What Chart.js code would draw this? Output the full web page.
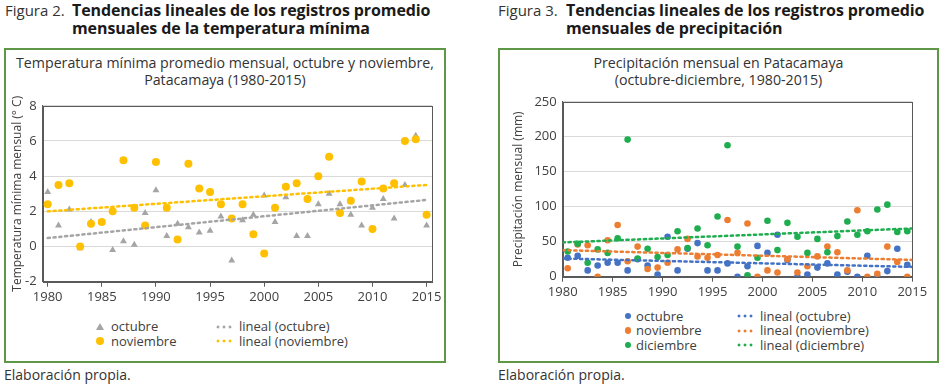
<!DOCTYPE html>
<html>
<head>
<meta charset="utf-8">
<script src="https://cdn.jsdelivr.net/npm/chart.js@4.4.1/dist/chart.umd.min.js"></script>
<style>
  body { margin: 0; width: 943px; height: 386px; background: #fff; position: relative; overflow: hidden;
         font-family: "Open Sans", sans-serif; color: #333; }
  .fig { position: absolute; top: 2px; display: flex; line-height: 17.7px; }
  .fig .lab { color: #333; font-size: 15px; }
  .fig b { color: #1a1a1a; font-size: 16px; letter-spacing: -0.1px; }
  .box { position: absolute; top: 48px; height: 315px; border: 2px solid #5e9746; box-sizing: border-box; }
  .ctitle { position: absolute; top: 54px; font-size: 14.2px; line-height: 17px; text-align: center; color: #333; }
  .src { position: absolute; top: 367px; font-size: 14px; line-height: 16px; color: #333; }
  canvas { position: absolute; }
  .leg { position: absolute; display: flex; align-items: center; height: 15px; font-size: 13px; line-height: 15px; color: #404040; white-space: nowrap; }
  .leg .mk { display: inline-block; flex: none; }
</style>
</head>
<body>

<div class="fig" style="left:5px"><span class="lab" style="width:67px">Figura 2.</span><b>Tendencias lineales de los registros promedio<br>mensuales de la temperatura mínima</b></div>
<div class="fig" style="left:498px"><span class="lab" style="width:68px">Figura 3.</span><b>Tendencias lineales de los registros promedio<br>mensuales de precipitación</b></div>

<div class="box" style="left:4px; width:442px"></div>
<div class="box" style="left:498px; width:441px"></div>

<div class="ctitle" style="left:4px; width:442px">Temperatura mínima promedio mensual, octubre y noviembre,<br>Patacamaya (1980-2015)</div>
<div class="ctitle" style="left:498px; width:441px">Precipitación mensual en Patacamaya<br>(octubre-diciembre, 1980-2015)</div>

<canvas id="tempChart" width="440" height="218" style="left:6px; top:92px; width:440px; height:218px"></canvas>
<canvas id="precChart" width="437" height="217" style="left:500px; top:88px; width:437px; height:217px"></canvas>

<div id="tempLegend"></div>
<div id="precLegend"></div>

<div class="src" style="left:4px">Elaboración propia.</div>
<div class="src" style="left:498px">Elaboración propia.</div>

<script>
// Figura 2 - temperatura mínima (°C)
const tempYears = [1980, 1981, 1982, 1983, 1984, 1985, 1986, 1987, 1988, 1989,
  1990, 1991, 1992, 1993, 1994, 1995, 1996, 1997, 1998, 1999,
  2000, 2001, 2002, 2003, 2004, 2005, 2006, 2007, 2008, 2009,
  2010, 2011, 2012, 2013, 2014, 2015];
const tempOct = [3.1, 1.2, 2.1, -0.1, 1.4, 1.4, -0.2, 0.3, 0.1, 1.9,
  3.2, 0.6, 1.3, 1.1, 0.8, 0.9, 1.7, -0.8, 1.5, 1.8,
  2.9, 1.4, 2.8, 0.6, 0.6, 2.4, 3.0, 2.4, 1.8, 1.2,
  2.2, 2.7, 1.6, 3.5, 6.3, 1.2];
const tempNov = [2.4, 3.5, 3.6, 0.0, 1.3, 1.4, 2.0, 4.9, 2.2, 1.2,
  4.8, 2.2, 0.4, 4.7, 3.3, 3.1, 2.4, 1.6, 2.4, 0.7,
  -0.4, 2.2, 3.4, 3.6, 2.7, 4.0, 5.1, 1.9, 2.6, 3.7,
  1.0, 3.3, 3.6, 6.0, 6.1, 1.8];
const tempTrendYears = [1980, 2015];
const tempTrendOct = [0.48, 2.65];
const tempTrendNov = [2.0, 3.5];
const tempTicksY = [-2, 0, 2, 4, 6, 8];

// Figura 3 - precipitación (mm)
const precYears = [1980, 1981, 1982, 1983, 1984, 1985, 1986, 1987, 1988, 1989,
  1990, 1991, 1992, 1993, 1994, 1995, 1996, 1997, 1998, 1999,
  2000, 2001, 2002, 2003, 2004, 2005, 2006, 2007, 2008, 2009,
  2010, 2011, 2012, 2013, 2014];
const precOct = [27, 30, 9, 16, 20, 20, 9, 25, 16, 3,
  57, 9, 40, 48, 9, 9, 19, 0, 15, 44,
  34, 60, 24, 0, 3, 13, 19, 3, 7, 0,
  30, 0, 8, 40, 17];
const precNov = [12, 46, 45, 0, 52, 74, 22, 43, 11, 13,
  20, 39, 54, 29, 27, 31, 81, 34, 76, 0,
  9, 6, 25, 6, 15, 29, 43, 35, 9, 95,
  0, 4, 43, 21, 0];
const precDic = [36, 47, 20, 39, 34, 55, 196, 26, 40, 28,
  31, 65, 41, 69, 45, 86, 188, 43, 2, 27,
  80, 38, 77, 57, 34, 54, 35, 58, 79, 60,
  65, 96, 103, 64, 65];
const precTrendYears = [1980, 2015];
const precTrendOct = [26, 14];
const precTrendNov = [38, 24];
const precTrendDic = [49, 69];
const precTicksY = [0, 50, 100, 150, 200, 250];

const yearTicks = [1980, 1985, 1990, 1995, 2000, 2005, 2010, 2015];

const GRAY = "#a5a5a5", YELLOW = "#ffc000";
const BLUE = "#4472c4", ORANGE = "#ed7d31", GREEN = "#1fae4f";

Chart.defaults.font.family = "'Open Sans', sans-serif";
Chart.defaults.color = "#404040";

function points(xs, ys, shift) {
  return ys.map((v, i) => ({ x: xs[i] + shift, y: v }));
}

function dots(label, xs, ys, color, style, radius, order, shift) {
  return {
    label, data: points(xs, ys, shift || 0), order,
    pointStyle: style, pointRadius: radius, pointHoverRadius: radius,
    backgroundColor: color, borderColor: color, borderWidth: 0,
    kind: style,
  };
}

function trend(label, xs, ys, color) {
  return {
    label, data: points(xs, ys, 0), order: 0, showLine: true,
    pointRadius: 0, borderColor: color, borderWidth: 2.5,
    borderDash: [2.2, 3.6], borderCapStyle: "round",
    kind: "dash",
  };
}

// marco oscuro alrededor del área de trazado
const frame = {
  id: "frame",
  beforeDatasetsDraw(chart) {
    const { ctx, chartArea: a } = chart;
    ctx.save();
    ctx.strokeStyle = "#595959";
    ctx.lineWidth = 1;
    ctx.strokeRect(Math.round(a.left) + 0.5, Math.round(a.top) + 0.5,
      Math.round(a.right) - Math.round(a.left), Math.round(a.bottom) - Math.round(a.top));
    ctx.restore();
  },
};

function makeChart(id, datasets, o) {
  return new Chart(document.getElementById(id), {
    type: "scatter",
    data: { datasets },
    plugins: [frame],
    options: {
      responsive: false, animation: false,
      layout: { padding: { top: o.padTop, right: o.padRight, left: 0, bottom: 0 } },
      plugins: { legend: { display: false }, tooltip: { enabled: false } },
      scales: {
        x: {
          type: "linear", min: o.xmin, max: o.xmax,
          afterBuildTicks: s => { s.ticks = yearTicks.map(v => ({ value: v })); },
          afterFit: s => { s.height = o.xAxisH; },
          grid: { drawOnChartArea: false, tickLength: 5, color: "#595959" },
          border: { color: "#595959" },
          ticks: { padding: 3, font: { size: 13 }, callback: v => String(v) },
        },
        y: {
          min: o.ticksY[0], max: o.ticksY[o.ticksY.length - 1],
          afterBuildTicks: s => { s.ticks = o.ticksY.map(v => ({ value: v })); },
          afterFit: s => { s.width = o.yAxisW; },
          grid: { color: "#d9d9d9", drawTicks: false },
          border: { color: "#595959" },
          ticks: { padding: 6, font: { size: 13 }, callback: v => String(v) },
          title: { display: true, text: o.yTitle, font: { size: 12 }, color: "#404040",
                   padding: { top: o.titlePad, bottom: 0 } },
        },
      },
    },
  });
}

const tempChart = makeChart("tempChart", [
  dots("octubre", tempYears, tempOct, GRAY, "triangle", 4, 3),
  dots("noviembre", tempYears, tempNov, YELLOW, "circle", 4, 2),
  trend("lineal (octubre)", tempTrendYears, tempTrendOct, GRAY),
  trend("lineal (noviembre)", tempTrendYears, tempTrendNov, YELLOW),
], { xmin: 1979.54, xmax: 2015.5, ticksY: tempTicksY, padTop: 11.3, padRight: 14,
     xAxisH: 28.3, yAxisW: 36.7, titlePad: 4, yTitle: "Temperatura mínima mensual (° C)" });

// los puntos de cada año se centran en medio del año
const precChart = makeChart("precChart", [
  dots("octubre", precYears, precOct, BLUE, "circle", 3.3, 3, 0.5),
  dots("noviembre", precYears, precNov, ORANGE, "circle", 3.3, 2, 0.5),
  dots("diciembre", precYears, precDic, GREEN, "circle", 3.3, 1, 0.5),
  trend("lineal (octubre)", precTrendYears, precTrendOct, BLUE),
  trend("lineal (noviembre)", precTrendYears, precTrendNov, ORANGE),
  trend("lineal (diciembre)", precTrendYears, precTrendDic, GREEN),
], { xmin: 1980, xmax: 2015, ticksY: precTicksY, padTop: 9.3, padRight: 24.7,
     xAxisH: 28.3, yAxisW: 62.7, titlePad: 11, yTitle: "Precipitación mensual (mm)" });

// leyenda en dos columnas: puntos a la izquierda, tendencias a la derecha
function buildLegend(el, chart, cols, top) {
  const sets = chart.data.datasets;
  const marks = sets.filter(d => d.kind !== "dash");
  const lines = sets.filter(d => d.kind === "dash");
  [marks, lines].forEach((group, c) => {
    group.forEach((d, r) => {
      const row = document.createElement("div");
      row.className = "leg";
      row.style.left = cols[c].x + "px";
      row.style.top = (top + r * 14.5) + "px";
      const mk = document.createElement("span");
      mk.className = "mk";
      const color = d.kind === "dash" ? d.borderColor : d.backgroundColor;
      if (d.kind === "triangle") {
        mk.style.cssText = `width:0;height:0;border-left:4px solid transparent;border-right:4px solid transparent;border-bottom:7px solid ${color};`;
      } else if (d.kind === "circle") {
        const s = d.pointRadius * 2;
        mk.style.cssText = `width:${s}px;height:${s}px;border-radius:50%;background:${color};`;
      } else {
        mk.style.cssText = `width:18px;height:4px;background:radial-gradient(circle, ${color} 1.3px, transparent 1.7px) 0 0/6px 4px repeat-x;`;
      }
      mk.style.marginRight = cols[c].gap + "px";
      row.appendChild(mk);
      row.appendChild(document.createTextNode(d.label));
      el.appendChild(row);
    });
  });
}

buildLegend(document.getElementById("tempLegend"), tempChart,
  [{ x: 96, gap: 7 }, { x: 215, gap: 6 }], 319);
buildLegend(document.getElementById("precLegend"), precChart,
  [{ x: 624.5, gap: 5 }, { x: 736, gap: 6 }], 308.5);
</script>
</body>
</html>
